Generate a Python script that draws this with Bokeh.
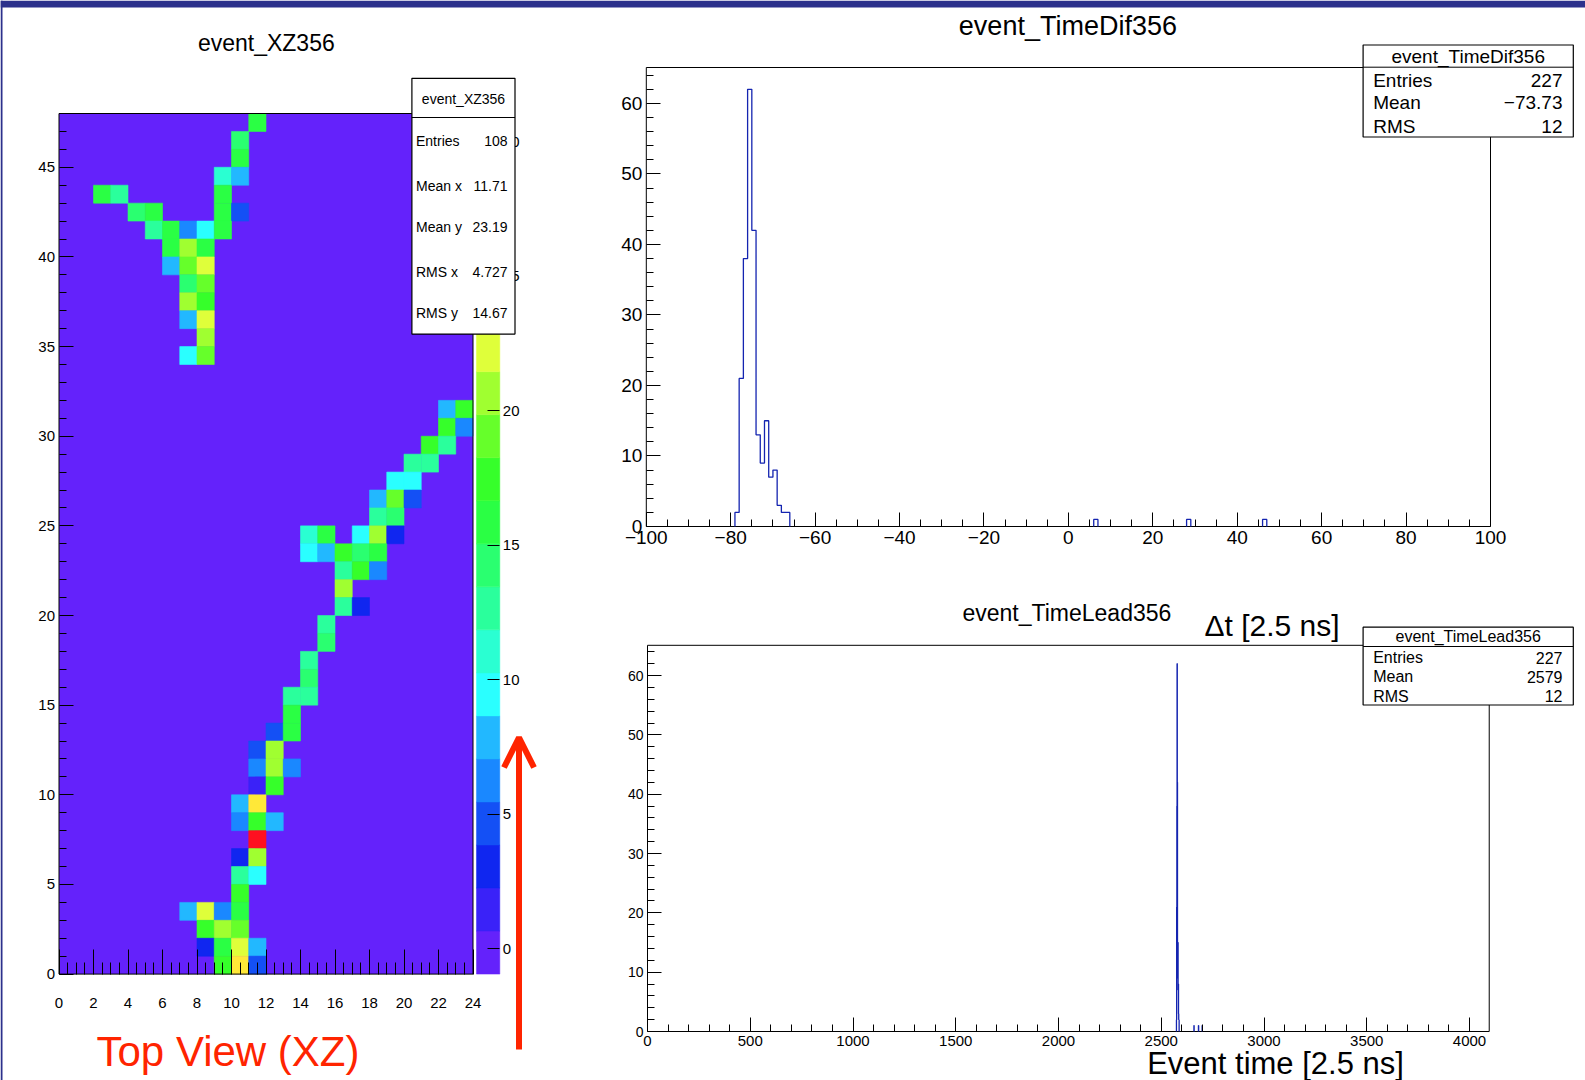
import numpy as np
from bokeh.plotting import figure
from bokeh.models import (Range1d, LinearAxis, FixedTicker, LinearColorMapper,
                          Arrow, OpenHead, ColumnDataSource)
from bokeh.transform import transform
from bokeh.core.properties import value
from bokeh.embed import file_html
from bokeh.resources import INLINE

# ---------------- data ----------------
# event_XZ356 : occupied cells (column index, row index, content)
cell_col = [11, 10, 10, 9, 10, 2, 3, 9, 4, 5, 9, 10, 5, 6, 7, 8, 9, 6, 7, 8, 6, 7, 8,
            7, 8, 7, 8, 7, 8, 8, 7, 8,
            22, 23, 22, 23, 21, 22, 20, 21, 19, 20, 18, 19, 20, 18, 19,
            14, 15, 17, 18, 19, 14, 15, 16, 17, 18, 16, 17, 18, 16, 16, 17, 15, 15, 14, 14, 13, 14,
            13, 12, 13, 11, 12, 11, 12, 13, 11, 12, 10, 11, 10, 11, 12, 11, 10, 11, 10, 11, 10,
            7, 8, 9, 10, 8, 9, 10, 8, 9, 10, 11, 9, 10, 11]
cell_row = [47, 46, 45, 44, 44, 43, 43, 43, 42, 42, 42, 42, 41, 41, 41, 41, 41, 40, 40, 40, 39, 39, 39,
            38, 38, 37, 37, 36, 36, 35, 34, 34,
            31, 31, 30, 30, 29, 29, 28, 28, 27, 27, 26, 26, 26, 25, 25,
            24, 24, 24, 24, 24, 23, 23, 23, 23, 23, 22, 22, 22, 21, 20, 20, 19, 18, 17, 16, 15, 15,
            14, 13, 13, 12, 12, 11, 11, 11, 10, 10, 9, 9, 8, 8, 8, 7, 6, 6, 5, 5, 4,
            3, 3, 3, 3, 2, 2, 2, 1, 1, 1, 1, 0, 0, 0]
cell_val = [16, 14, 16, 11, 8, 16, 13, 16, 14, 16, 16, 5, 13, 16, 6, 10, 16, 16, 21, 16, 8, 19, 22,
            14, 19, 21, 17, 8, 22, 21, 10, 19,
            8, 17, 17, 6, 17, 13, 13, 13, 10, 10, 8, 19, 5, 13, 14,
            11, 16, 10, 21, 3, 10, 8, 17, 14, 16, 13, 17, 6, 21, 13, 3, 13, 14, 13, 14, 13, 13,
            16, 5, 16, 5, 21, 6, 21, 6, 2, 17, 8, 24, 6, 17, 8, 30, 3, 21, 13, 10, 17,
            8, 22, 6, 16, 17, 21, 19, 3, 16, 22, 8, 17, 24, 5]
n_cols, n_rows = 24, 48
z_low, z_high = -0.94, 31.06
palette20 = ["#6422fb", "#3a22f8", "#1026f0", "#1450f5", "#1a88ff", "#22b8ff", "#2affff",
             "#2affd2", "#2aff9c", "#2aff70", "#2aff44", "#36ff2a", "#66ff2a", "#a0ff30",
             "#dfff3a", "#ffe838", "#ffc02a", "#ff9022", "#ff541e", "#ff1020"]
xz_tick_x = list(range(0, 25, 2))
xz_tick_y = list(range(0, 46, 5))
z_ticks = list(range(0, 31, 5))
xz_stat_names = ["Entries", "Mean x", "Mean y", "RMS x", "RMS y"]
xz_stat_vals = ["108", "11.71", "23.19", "4.727", "14.67"]

# event_TimeDif356 : bins of width 1 (low edge) and contents
dif_bin_low = [-79, -78, -77, -76, -75, -74, -73, -72, -71, -70, -69, -68, -67, 6, 28, 46]
dif_counts = [2, 21, 38, 62, 42, 13, 9, 15, 7, 8, 3, 2, 2, 1, 1, 1]
dif_range = (-100, 100)
dif_ticks = list(range(-100, 101, 20))
dif_stat_vals = ["227", "\u221273.73", "12"]

# event_TimeLead356
lead_bin_low = [2574, 2575, 2576, 2577, 2578, 2579, 2580, 2581, 2582, 2583, 2584, 2585, 2586,
                2659, 2681, 2699]
lead_counts = [2, 21, 38, 62, 42, 13, 9, 15, 7, 8, 3, 2, 2, 1, 1, 1]
lead_range = (0, 4096)
lead_ticks = list(range(0, 4001, 500))
lead_stat_vals = ["227", "2579", "12"]
hist_stat_names = ["Entries", "Mean", "RMS"]
count_ticks = list(range(0, 61, 10))

# ---------------- page ----------------
W, H = 1585, 1080
FONT = "Liberation Sans"


def xr(v0, p0, v1, p1):
    k = (p1 - p0) / (v1 - v0)
    s = v0 - p0 / k
    return Range1d(start=s, end=s + W / k)


def yr(v0, p0, v1, p1):
    k = (p0 - p1) / (v1 - v0)
    s = v0 - (H - p0) / k
    return Range1d(start=s, end=s + H / k)


ty_max = 1.05 * max(dif_counts)
by_max = 1.05 * max(lead_counts)

p = figure(width=W, height=H, x_range=Range1d(0, W), y_range=Range1d(H, 0),
           x_axis_type=None, y_axis_type=None, min_border=0,
           toolbar_location=None, output_backend="svg", outline_line_color=None,
           background_fill_color="white", border_fill_color="white")
p.xgrid.visible = False
p.ygrid.visible = False

p.extra_x_ranges = {"hx": xr(0, 58.5, n_cols, 472.5),
                    "tx": xr(-100, 645.8, 100, 1490),
                    "bx": xr(0, 647, 4000, 1469)}
p.extra_y_ranges = {"hy": yr(0, 973.6, n_rows, 113),
                    "cz": yr(z_low, 973.6, z_high, 113),
                    "ty": yr(0, 526, ty_max, 67),
                    "by": yr(0, 1031, by_max, 644.8)}

# slide border
p.quad(left=[0], right=[W], top=[0], bottom=[7], fill_color="#2c318c", line_color=None)
p.quad(left=[0], right=[2], top=[0], bottom=[H], fill_color="#2c318c", line_color=None)


def text(x, y, t, size, align="center", color="black", level="glyph", xn="default", yn="default"):
    p.text(x=x, y=y, text=t, text_font=value(FONT), text_font_size=size,
           text_align=align, text_baseline="middle", text_color=color, level=level,
           x_range_name=xn, y_range_name=yn)


def axis(side, xn, yn, loc, ticks, minors, tin, min_in, fs, standoff, overrides=None):
    ax = LinearAxis(x_range_name=xn, y_range_name=yn, fixed_location=loc,
                    ticker=FixedTicker(ticks=ticks, minor_ticks=minors),
                    axis_line_color=None, major_tick_in=tin, major_tick_out=0,
                    minor_tick_in=min_in, minor_tick_out=0,
                    major_tick_line_color="black", minor_tick_line_color="black",
                    major_label_text_font=FONT, major_label_text_font_size=fs,
                    major_label_standoff=standoff, major_label_text_color="black")
    if overrides:
        ax.major_label_overrides = overrides
    p.add_layout(ax, side)


# ---------------- heat map ----------------
mapper = LinearColorMapper(palette=palette20, low=z_low, high=z_high)
# empty bins (content 0) fill the whole frame with the first colour of the scale
bg = ColumnDataSource(dict(l=[0], r=[n_cols], b=[0], t=[n_rows], z=[0]))
p.quad(left="l", right="r", bottom="b", top="t", source=bg, x_range_name="hx",
       y_range_name="hy", fill_color=transform("z", mapper), line_color=None)
hsrc = ColumnDataSource(dict(x=np.array(cell_col) + 0.5, y=np.array(cell_row) + 0.5,
                             z=cell_val))
p.rect("x", "y", 1, 1, source=hsrc, x_range_name="hx", y_range_name="hy",
       fill_color=transform("z", mapper), line_color=transform("z", mapper), line_width=0.6)
p.quad(left=[0], right=[n_cols], bottom=[0], top=[n_rows], x_range_name="hx",
       y_range_name="hy", fill_color=None, line_color="black", line_width=1)

axis("below", "hx", "hy", 0, xz_tick_x,
     [v / 2 for v in range(0, 49) if v % 4], 25, 12, "15px", 24)
axis("left", "hx", "hy", 0, xz_tick_y,
     [v for v in range(0, 48) if v % 5], 14, 7, "15px", 4)

# colour scale
edges = np.linspace(z_low, z_high, len(palette20) + 1)
csrc = ColumnDataSource(dict(b=edges[:-1], t=edges[1:], m=(edges[:-1] + edges[1:]) / 2))
p.quad(left=476, right=499.3, bottom="b", top="t", source=csrc, y_range_name="cz",
       fill_color=transform("m", mapper), line_color=transform("m", mapper), line_width=0.5)
axis("right", "default", "cz", 499.3, z_ticks, [], 12, 0, "15px", 3)

text([265.8], [42.5], ["event_XZ356"], "23px")

# stats box left
p.quad(left=[411.4], right=[514.5], top=[77.8], bottom=[333.6], fill_color="white",
       line_color="black", line_width=1.2, level="overlay")
p.segment(x0=[411.4], x1=[514.5], y0=[117], y1=[117], line_color="black", level="overlay")
text([463], [98], ["event_XZ356"], "14px", level="overlay")
rows_y = [140.5, 185, 226, 271, 312]
text([415.5] * 5, rows_y, xz_stat_names, "14px", align="left", level="overlay")
text([507] * 5, rows_y, xz_stat_vals, "14px", align="right", level="overlay")

# annotation
text([96], [1051], ["Top View (XZ)"], "42px", align="left", color="#ff2400")
p.add_layout(Arrow(end=OpenHead(size=30, line_color="#ff2400", line_width=6),
                   x_start=518.5, y_start=1049, x_end=518.5, y_end=737,
                   line_color="#ff2400", line_width=6))


# ---------------- histograms ----------------
def step_paths(lows, counts):
    """Outline of each run of adjacent filled bins (bin width 1)."""
    order = np.argsort(lows)
    lows = np.asarray(lows)[order]
    counts = np.asarray(counts)[order]
    xs, ys = [], []
    start = 0
    for i in range(1, len(lows) + 1):
        if i == len(lows) or lows[i] != lows[i - 1] + 1:
            lo, c = lows[start:i], counts[start:i]
            e = np.r_[lo, lo[-1] + 1]
            xs.append(list(np.r_[e[0], np.repeat(e, 2)[1:-1], e[-1]]))
            ys.append(list(np.r_[0, np.repeat(c, 2), 0]))
            start = i
    return xs, ys


HC = "#1424b0"
minus = {v: str(v).replace("-", "\u2212") for v in dif_ticks}

# top right
xs1, ys1 = step_paths(dif_bin_low, dif_counts)
p.quad(left=[dif_range[0]], right=[dif_range[1]], bottom=[0], top=[ty_max],
       x_range_name="tx", y_range_name="ty", fill_color=None, line_color="black")
p.multi_line(xs1, ys1, x_range_name="tx", y_range_name="ty", line_color=HC, line_width=1.3)
axis("below", "tx", "ty", 0, dif_ticks,
     [v for v in range(-100, 101, 5) if v % 20], 14, 7, "19px", 4, minus)
axis("left", "tx", "ty", dif_range[0], count_ticks,
     [v for v in range(0, 65, 2) if v % 10], 14, 7, "19px", 4)
text([1067.4], [25.3], ["event_TimeDif356"], "27px")
text([1271.5], [625], ["\u0394t [2.5 ns]"], "30px")

# bottom right
xs2, ys2 = step_paths(lead_bin_low, lead_counts)
p.quad(left=[lead_range[0]], right=[lead_range[1]], bottom=[0], top=[by_max],
       x_range_name="bx", y_range_name="by", fill_color=None, line_color="black")
p.multi_line(xs2, ys2, x_range_name="bx", y_range_name="by", line_color=HC, line_width=1.3)
axis("below", "bx", "by", 0, lead_ticks,
     [v for v in range(0, 4097, 100) if v % 500], 14, 7, "15px", 4)
axis("left", "bx", "by", lead_range[0], count_ticks,
     [v for v in range(0, 65, 2) if v % 10], 14, 7, "14px", 4)
text([1066.4], [612.5], ["event_TimeLead356"], "23px")
text([1275], [1063], ["Event time [2.5 ns]"], "31px")


# stats boxes right
def stats_box(top, bottom, sep, header, hfs, hy, rows, vals, fs):
    p.quad(left=[1362.6], right=[1572.8], top=[top], bottom=[bottom], fill_color="white",
           line_color="black", line_width=1.2, level="overlay")
    p.segment(x0=[1362.6], x1=[1572.8], y0=[sep], y1=[sep], line_color="black",
              level="overlay")
    text([1467.7], [hy], [header], hfs, level="overlay")
    text([1372.7] * 3, rows, hist_stat_names, fs, align="left", level="overlay")
    text([1562] * 3, rows, vals, fs, align="right", level="overlay")


stats_box(44.5, 136.5, 66.7, "event_TimeDif356", "19px", 55.6, [80, 102, 125.5],
          dif_stat_vals, "19px")
stats_box(626.7, 704.5, 646, "event_TimeLead356", "16px", 636, [657, 676, 695.5],
          lead_stat_vals, "16px")

open("out.html", "w").write(file_html(p, INLINE))
